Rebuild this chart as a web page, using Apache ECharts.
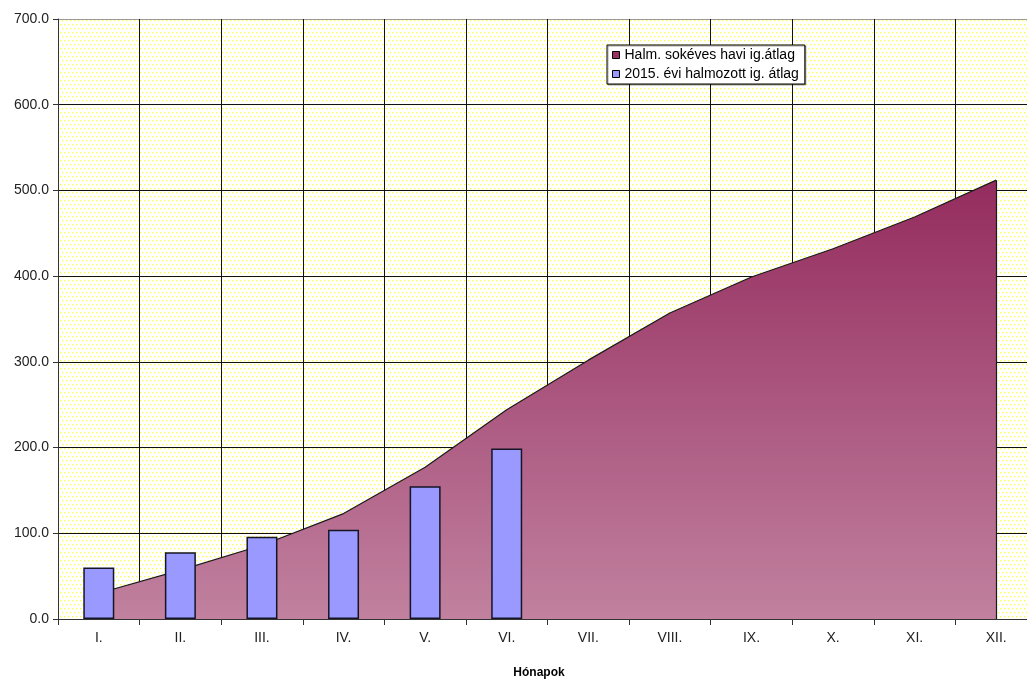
<!DOCTYPE html>
<html>
<head>
<meta charset="utf-8">
<script src="https://cdn.jsdelivr.net/npm/echarts@6/dist/echarts.min.js"></script>
<style>
  html, body { margin: 0; padding: 0; background: #fff; overflow: hidden; }
  #chart { width: 1040px; height: 684px; }
</style>
</head>
<body>
<div id="chart"></div>
<script>
// Months of the year (Roman numerals)
const months = ['I.', 'II.', 'III.', 'IV.', 'V.', 'VI.', 'VII.', 'VIII.', 'IX.', 'X.', 'XI.', 'XII.'];
// Cumulative long-term monthly average
const longTermCumulative = [30, 57, 86, 123, 177, 244, 302, 357, 399, 432, 469, 512];
// Cumulative 2015 average (first half year)
const cumulative2015 = [60, 78, 96, 104, 155, 199];

const seriesNames = ['Halm. sokéves havi ig.átlag', '2015. évi halmozott ig. átlag'];
const axisTitle = 'Hónapok';

// Dotted yellow background fill for the plot area (soft yellow dots on white)
function dotPattern() {
  const c = document.createElement('canvas');
  c.width = 4; c.height = 8;
  const ctx = c.getContext('2d');
  ctx.fillStyle = '#ffffff';
  ctx.fillRect(0, 0, 4, 8);
  const dot = (x, y) => {
    ctx.fillStyle = '#ffffd6';
    ctx.fillRect(x, y, 2, 2);
    ctx.fillStyle = '#ffff30';
    ctx.fillRect(x, y, 1, 1);
  };
  dot(0, 0);
  dot(2, 4);
  return c;
}

const font = "'Liberation Sans', Arial, sans-serif";
const chart = echarts.init(document.getElementById('chart'), null, { renderer: 'canvas' });

const lastIdx = longTermCumulative.length - 1;

chart.setOption({
  backgroundColor: '#ffffff',
  animation: false,
  grid: {
    left: 58, top: 19, width: 979, height: 603,
    show: true,
    backgroundColor: { image: dotPattern(), repeat: 'repeat' },
    borderWidth: 0
  },
  legend: {
    orient: 'vertical',
    left: 607, top: 45,
    padding: [3, 6, 3, 5],
    itemGap: 5,
    itemWidth: 7, itemHeight: 7,
    backgroundColor: '#ffffff',
    borderColor: '#000000',
    borderWidth: 1,
    shadowColor: 'rgba(0,0,0,0.35)',
    shadowOffsetX: 1, shadowOffsetY: 1,
    textStyle: { fontFamily: font, fontSize: 14, color: '#000' },
    data: [
      { name: seriesNames[0], icon: 'rect', itemStyle: { color: '#993366', borderColor: '#000', borderWidth: 1 } },
      { name: seriesNames[1], icon: 'rect', itemStyle: { color: '#9999ff', borderColor: '#000', borderWidth: 1 } }
    ]
  },
  xAxis: {
    type: 'category',
    data: months,
    boundaryGap: true,
    name: axisTitle,
    nameLocation: 'middle',
    nameGap: 48,
    nameTextStyle: { fontFamily: font, fontSize: 12, fontWeight: 'bold', color: '#000', padding: [0, 17, 0, 0] },
    axisLine: { show: true, lineStyle: { color: '#333', width: 1 } },
    axisTick: { show: true, alignWithLabel: false, length: 6, lineStyle: { color: '#333' } },
    axisLabel: { fontFamily: font, fontSize: 14, color: '#222', margin: 12 },
    splitLine: { show: true, lineStyle: { color: '#111', width: 1 } }
  },
  yAxis: {
    type: 'value',
    min: 0, max: 700, interval: 100,
    axisLine: { show: true, lineStyle: { color: '#333', width: 1 } },
    axisTick: { show: true, length: 5, lineStyle: { color: '#333' } },
    axisLabel: {
      fontFamily: font, fontSize: 14, color: '#222', margin: 9,
      formatter: v => v.toFixed(1)
    },
    splitLine: {
      show: true,
      lineStyle: { color: ['#111', '#111', '#111', '#111', '#111', '#111', '#111', '#999'], width: 1 }
    }
  },
  series: [
    {
      name: seriesNames[0],
      type: 'line',
      data: longTermCumulative,
      symbol: 'none',
      z: 1,
      lineStyle: { color: '#1a1a1a', width: 1.2 },
      itemStyle: { color: '#993366' },
      areaStyle: {
        opacity: 1,
        color: new echarts.graphic.LinearGradient(0, 0, 0, 1, [
          { offset: 0, color: '#942c5e' },
          { offset: 1, color: '#c1819f' }
        ])
      },
      markLine: {
        silent: true,
        symbol: 'none',
        label: { show: false },
        lineStyle: { color: '#1a1a1a', width: 1.2, type: 'solid' },
        data: [[
          { coord: [lastIdx, 0] },
          { coord: [lastIdx, longTermCumulative[lastIdx]] }
        ]]
      }
    },
    {
      name: seriesNames[1],
      type: 'bar',
      data: cumulative2015,
      barWidth: 31,
      z: 3,
      itemStyle: { color: '#9999ff', borderColor: '#151525', borderWidth: 1.5 }
    }
  ]
});
</script>
</body>
</html>
